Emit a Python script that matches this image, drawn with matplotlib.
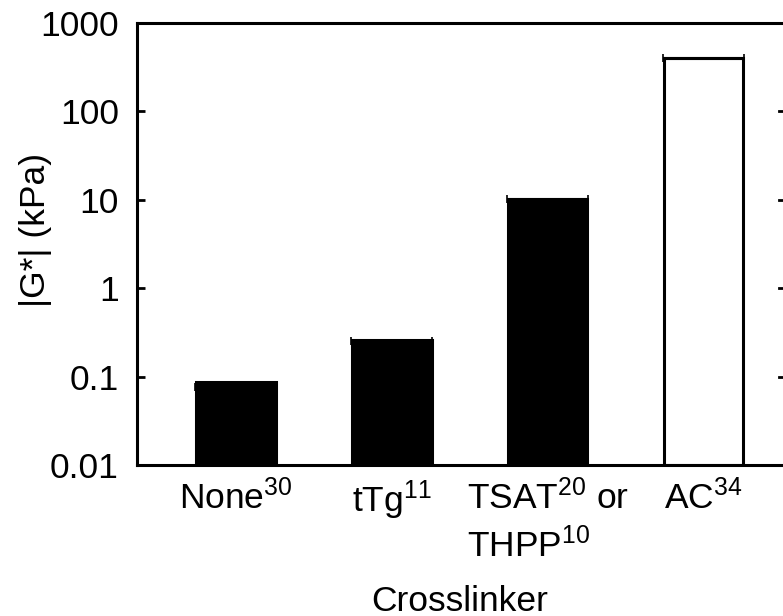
import matplotlib
matplotlib.use("Agg")
import matplotlib.pyplot as plt
from matplotlib.transforms import blended_transform_factory

plt.rcParams["font.family"] = ["Liberation Sans", "DejaVu Sans"]
plt.rcParams["mathtext.fontset"] = "custom"
plt.rcParams["mathtext.rm"] = "Liberation Sans"
plt.rcParams["mathtext.it"] = "Liberation Sans"
plt.rcParams["mathtext.bf"] = "Liberation Sans"

# data
labels = ["None$^{30}$", "tTg$^{11}$", "TSAT$^{20}$ or\nTHPP$^{10}$", "AC$^{34}$"]
modulus = [0.076, 0.25, 10.2, 400]
colors = ["black", "black", "black", "white"]
yticks = [0.01, 0.1, 1, 10, 100, 1000]
ytick_labels = ["0.01", "0.1", "1", "10", "100", "1000"]

fs = 25.5

fig = plt.figure(figsize=(7.83, 6.16), dpi=100)
ax = fig.add_axes([137 / 783, (616 - 465) / 616, 646 / 783, 442 / 616])

xs = list(range(len(modulus)))
ax.bar(xs, modulus, width=0.51, color=colors, edgecolor="black", linewidth=2.2,
       bottom=0.01, zorder=2)
# small caps at the bar tops
ax.errorbar(xs, modulus, xerr=0.26, fmt="none", ecolor="black", elinewidth=2.2,
            capsize=3, capthick=1.2, zorder=3)

ax.set_yscale("log")
ax.set_ylim(0.01, 1000)
ax.set_xlim(-0.635, 3.51)
ax.set_yticks(yticks)
ax.set_yticklabels(ytick_labels)
ax.minorticks_off()
ax.tick_params(axis="y", direction="in", length=6, width=2, labelsize=fs, pad=13)
ax.set_xticks(xs)
ax.set_xticklabels(labels)
ax.tick_params(axis="x", length=0, labelsize=fs, pad=10)
for lab in ax.get_xticklabels():
    lab.set_verticalalignment("top")
    lab.set_multialignment("left")
    lab.set_linespacing(1.4)

for side in ["left", "bottom", "top"]:
    ax.spines[side].set_linewidth(2.2)
ax.spines["right"].set_visible(False)

ax.set_ylabel("|G*| (kPa)", fontsize=fs)
ax.yaxis.set_label_coords(-0.132, 0.532)
ax.set_xlabel("Crosslinker", fontsize=fs, labelpad=15)

# tick marks of the neighbouring (cropped) panel at the right edge
tr = blended_transform_factory(fig.transFigure, ax.transData)
for v in yticks[1:-1]:
    ax.plot([0.995, 1.0], [v, v], color="black", linewidth=2, transform=tr,
            clip_on=False)

fig.savefig("out.png", dpi=100)
